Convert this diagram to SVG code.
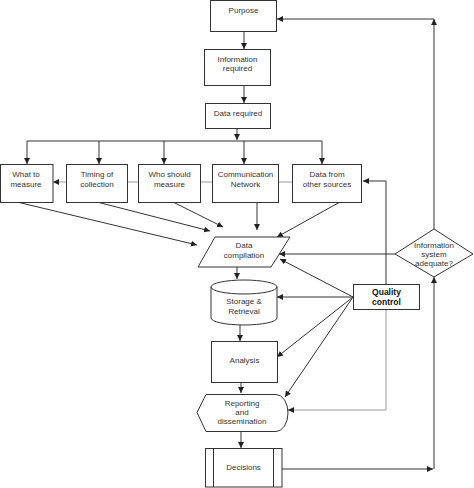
<svg xmlns="http://www.w3.org/2000/svg" width="474" height="488" viewBox="0 0 474 488">
<defs>
<marker id="ah" markerUnits="userSpaceOnUse" markerWidth="7" markerHeight="6" refX="6" refY="3" orient="auto"><path d="M0,0 L6,3 L0,6 z" fill="#222"/></marker>
<style>
.n{fill:#fff;stroke:#333;stroke-width:1}
.t{font-family:"Liberation Sans",Arial,sans-serif;font-size:8px;fill:#333;text-anchor:middle}
.b{font-weight:bold;font-size:8.5px;fill:#111}
.c{fill:none;stroke:#333;stroke-width:1;marker-end:url(#ah)}
.l{fill:none;stroke:#333;stroke-width:1}
.g{fill:none;stroke:#999;stroke-width:1}
</style>
</defs>
<rect width="474" height="488" fill="#fff"/>
<g id="connectors">
<path class="c" d="M244,32 V49"/>
<path class="c" d="M244,86 V103"/>
<path class="c" d="M237,129 V140"/>
<path class="l" d="M27,141 H322"/>
<path class="c" d="M27,141 V164"/>
<path class="c" d="M99,141 V164"/>
<path class="c" d="M164,141 V164"/>
<path class="c" d="M244,141 V164"/>
<path class="c" d="M322,141 V164"/>
<path class="g" d="M292,182 H58"/>
<path class="c" d="M58,182 H53" style="stroke:#999"/>
<path class="c" d="M17,202 L197,245"/>
<path class="c" d="M97,202 L210,231"/>
<path class="c" d="M173,202 L223,227"/>
<path class="c" d="M257,202 V230"/>
<path class="c" d="M340,202 L277,237"/>
<path class="c" d="M237,267 V279"/>
<path class="c" d="M240,325 V341"/>
<path class="c" d="M241,382 V393"/>
<path class="c" d="M241,431 V448"/>
<path class="c" d="M282,469 H433"/>
<path class="c" d="M434,469 V277"/>
<path class="c" d="M434,229 V19"/>
<path class="c" d="M434,19 H277"/>
<path class="c" d="M395,254 H279"/>
<path class="c" d="M353,297 L280,259"/>
<path class="c" d="M353,297 H277"/>
<path class="c" d="M353,297 L277,357"/>
<path class="c" d="M353,297 L285,397"/>
<path class="c" d="M386,284 V181 H363"/>
<path class="g" d="M386,309 V410 H293"/>
<path class="c" d="M293,410 H288"/>
</g>
<g id="purpose"><rect class="n" x="210.5" y="0.5" width="66" height="31"/><text class="t" x="243.5" y="13">Purpose</text></g>
<g id="info"><rect class="n" x="204.5" y="49.5" width="66" height="36"/><text class="t" x="237.5" y="62">Information</text><text class="t" x="237.5" y="71">required</text></g>
<g id="datareq"><rect class="n" x="205.5" y="103.5" width="65" height="25"/><text class="t" x="238" y="116">Data required</text></g>
<g id="what"><rect class="n" x="0.5" y="164.5" width="52.5" height="38"/><text class="t" x="26" y="177">What to</text><text class="t" x="26" y="187">measure</text></g>
<g id="timing"><rect class="n" x="66.5" y="164.5" width="61" height="38"/><text class="t" x="97" y="177">Timing of</text><text class="t" x="97" y="187">collection</text></g>
<g id="who"><rect class="n" x="138.5" y="164.5" width="62" height="38"/><text class="t" x="169.5" y="177">Who should</text><text class="t" x="169.5" y="187">measure</text></g>
<g id="comm"><rect class="n" x="212.5" y="164.5" width="66" height="38"/><text class="t" x="245.5" y="177">Communication</text><text class="t" x="245.5" y="187">Network</text></g>
<g id="datafrom"><rect class="n" x="292.5" y="164.5" width="69" height="38"/><text class="t" x="327" y="177">Data from</text><text class="t" x="327" y="187">other sources</text></g>
<g id="datacomp"><polygon class="n" points="215,237 290,237 271,267 198,267"/><text class="t" x="244" y="248">Data</text><text class="t" x="244" y="258">compilation</text></g>
<g id="storage"><path class="n" d="M211,287 A33,7 0 0,1 277,287 L277,318 A33,7 0 0,1 211,318 Z"/><path class="l" d="M211,287 A33,7 0 0,0 277,287"/><text class="t" x="244" y="304">Storage &amp;</text><text class="t" x="244" y="314">Retrieval</text></g>
<g id="analysis"><rect class="n" x="211.5" y="341.5" width="66" height="41"/><text class="t" x="244.5" y="363">Analysis</text></g>
<g id="reporting"><path class="n" d="M197,412.5 L206,394.5 L276,394.5 A12,18.5 0 0,1 276,431.5 L206,431.5 Z"/><text class="t" x="242" y="406">Reporting</text><text class="t" x="242" y="415">and</text><text class="t" x="242" y="424">dissemination</text></g>
<g id="decisions"><rect class="n" x="205.5" y="448.5" width="76.5" height="38.5"/><path class="l" d="M213.5,448.5 V487 M273.5,448.5 V487"/><text class="t" x="243.5" y="470">Decisions</text></g>
<g id="quality"><rect class="n" x="353.5" y="284.5" width="66" height="25"/><text class="t b" x="386.5" y="295">Quality</text><text class="t b" x="386.5" y="305">control</text></g>
<g id="adequate"><polygon class="n" points="434,229 473,254 434,277 395,254"/><text class="t" x="434" y="248">Information</text><text class="t" x="434" y="257">system</text><text class="t" x="434" y="266">adequate?</text></g>
</svg>
